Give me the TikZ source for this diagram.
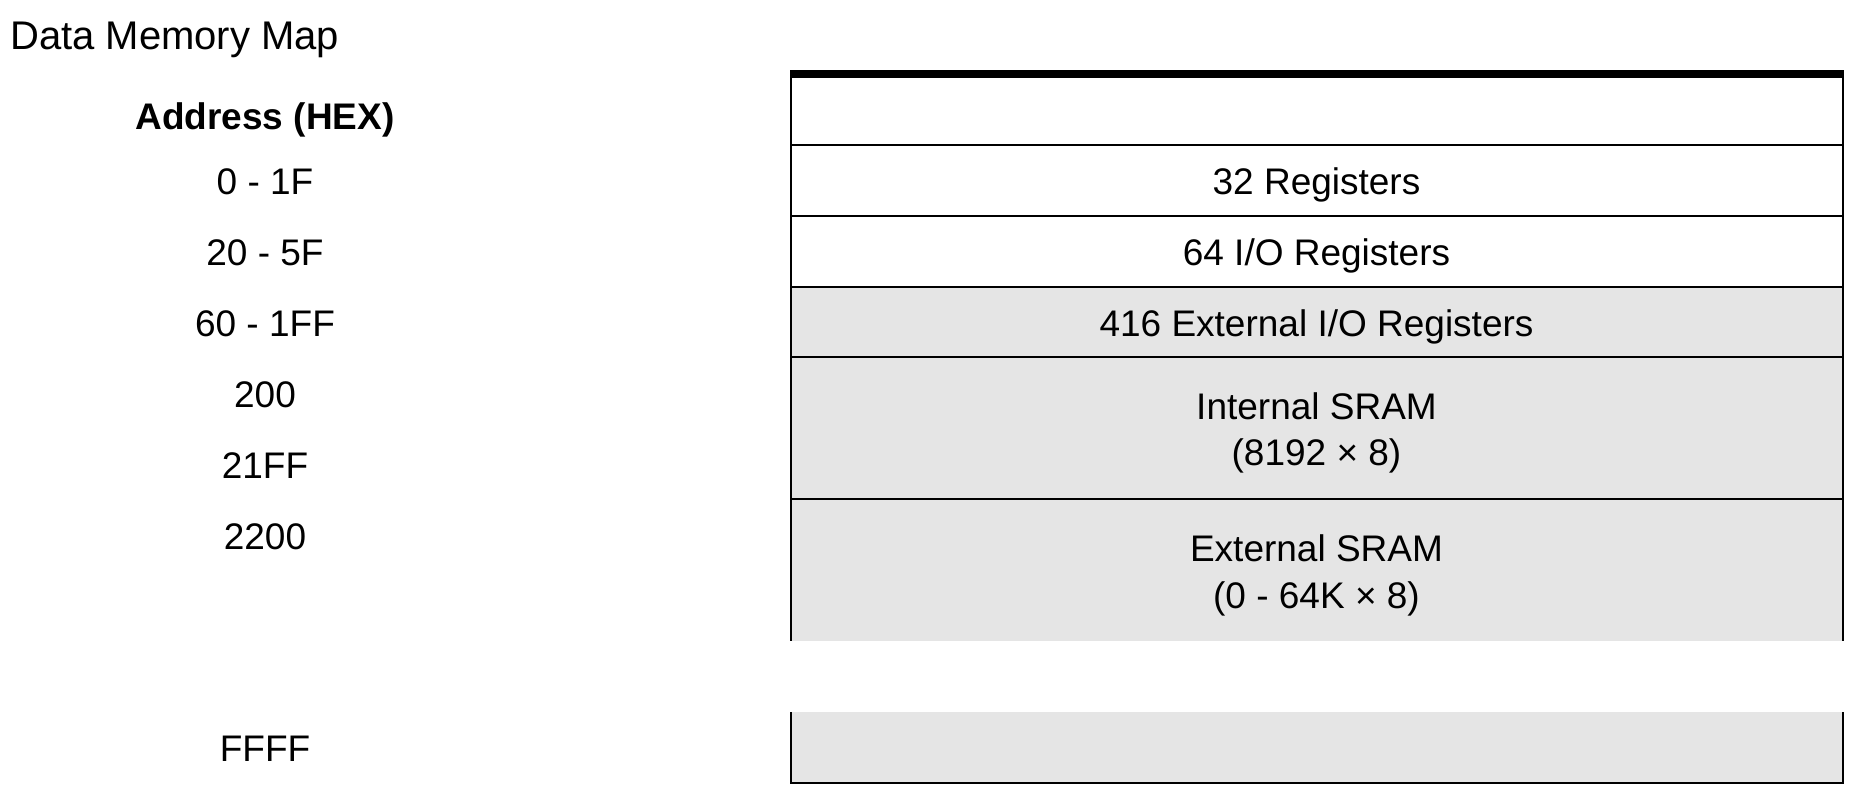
\documentclass[tikz,border=0pt]{standalone}
\usepackage{fontspec}
\setmainfont{Liberation Sans}
\definecolor{cellgray}{HTML}{E5E5E5}
\tikzset{
  body/.style={font=\fontsize{37}{44}\selectfont, inner sep=0pt, anchor=base},
  boldbody/.style={body, font=\fontsize{37}{44}\selectfont\bfseries},
  titletext/.style={font=\fontsize{40}{48}\selectfont, inner sep=0pt, anchor=base west},
  rule/.style={line width=2pt, draw=black},
  thickrule/.style={line width=8pt, draw=black},
  cellfill/.style={fill=cellgray, draw=none},
}
\begin{document}
\begin{tikzpicture}[x=1pt,y=-1pt]
\useasboundingbox (0,0) rectangle (1856,800);
% corner coordinates
\coordinate (tl) at (791,74);
\coordinate (tr) at (1842.5,74);
\coordinate (gapL) at (791,641);
\coordinate (gapR) at (1842.5,641);
\coordinate (lowL) at (791,712);
\coordinate (lowR) at (1842.5,712);
\coordinate (botL) at (791,782.5);
\coordinate (botR) at (1842.5,782.5);
% fills
\path[cellfill] (791,286.7) rectangle (gapR);
\path[cellfill] (lowL) rectangle (botR);
% row separators
\draw[rule] (791,144.5) -- (1842.5,144.5);
\draw[rule] (791,215.7) -- (1842.5,215.7);
\draw[rule] (791,286.7) -- (1842.5,286.7);
\draw[rule] (791,357.3) -- (1842.5,357.3);
\draw[rule] (791,499) -- (1842.5,499);
% sides
\draw[rule] (tl) -- (gapL);
\draw[rule] (tr) -- (gapR);
\draw[rule] (lowL) -- (botL) -- (botR) -- (lowR);
% thick top
\draw[thickrule] (790,74) -- (1843.5,74);
% title
\node[titletext] (title) at (10,49.3) {Data Memory Map};
% address column
\node[boldbody] (hdr) at (265,129.3) {Address (HEX)};
\node[body] (a1) at (265,194.5) {0 - 1F};
\node[body] (a2) at (265,265.5) {20 - 5F};
\node[body] (a3) at (265,336) {60 - 1FF};
\node[body] (a4) at (265,407) {200};
\node[body] (a5) at (265,478) {21FF};
\node[body] (a6) at (265,549.5) {2200};
\node[body] (a7) at (265,761) {FFFF};
% memory blocks
\node[body] (m1) at (1316.5,194.5) {32 Registers};
\node[body] (m2) at (1316.5,265.5) {64 I/O Registers};
\node[body] (m3) at (1316.5,336) {416 External I/O Registers};
\node[body] (m4a) at (1316.5,419.3) {Internal SRAM};
\node[body] (m4b) at (1316.5,465.5) {(8192 × 8)};
\node[body] (m5a) at (1316.5,561.5) {External SRAM};
\node[body] (m5b) at (1316.5,608) {(0 - 64K × 8)};
\end{tikzpicture}
\end{document}
